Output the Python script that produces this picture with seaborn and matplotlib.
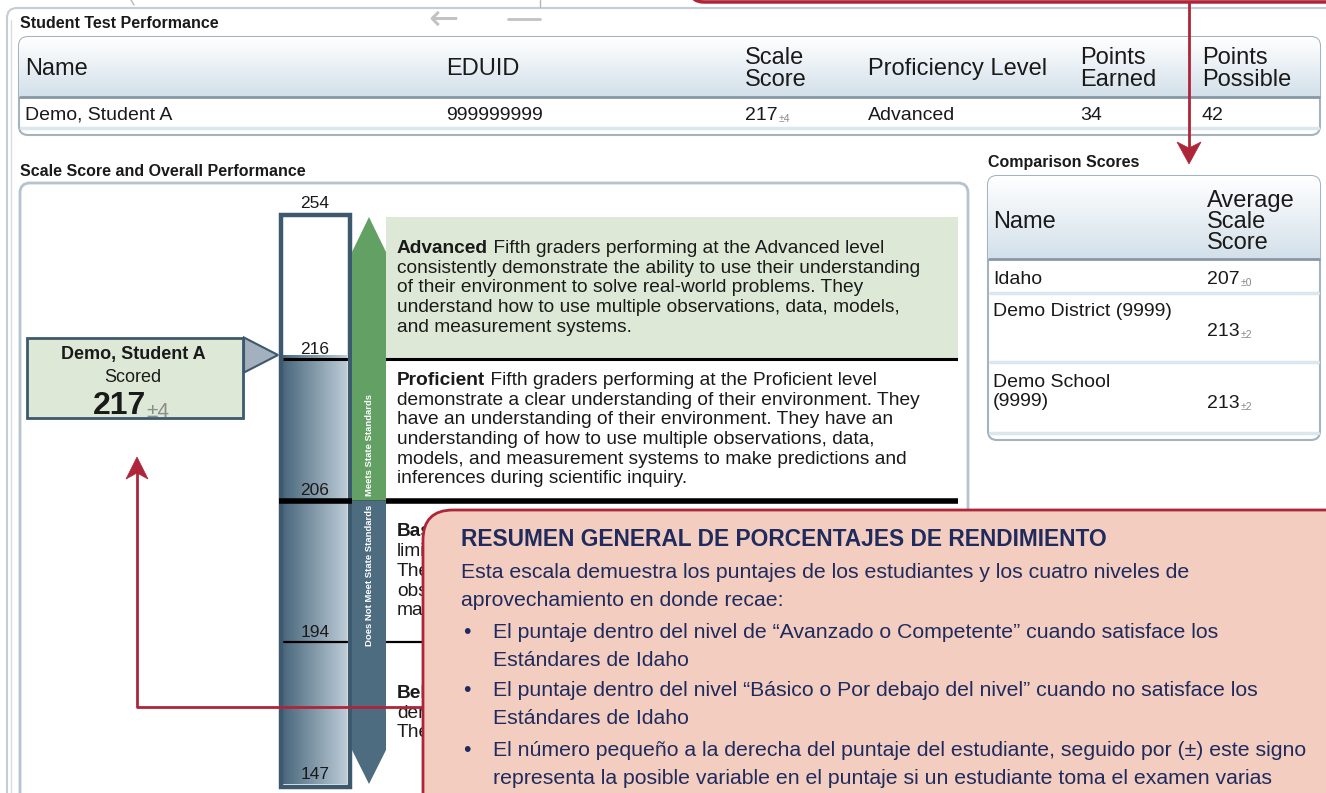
# Student score report - scale score panel with comparison scores and a Spanish call-out

import numpy as np
import matplotlib
matplotlib.use('Agg')
import matplotlib.pyplot as plt
from matplotlib.patches import FancyBboxPatch, Rectangle, Polygon
import seaborn as sns

# ---- values ----
cut_scores = [147, 194, 206, 216, 254]          # bottom -> top of the scale
level_names = ['Below Basic', 'Basic', 'Proficient', 'Advanced']

student_name = 'Demo, Student A'
student_eduid = '999999999'
student_score = 217
student_err = 4
student_level = 'Advanced'
points_earned = 34
points_possible = 42

test_headers = ['Name', 'EDUID', 'Scale\nScore', 'Proficiency Level', 'Points\nEarned', 'Points\nPossible']

comp_names = ['Idaho', 'Demo District (9999)', 'Demo School\n(9999)']
comp_scores = [207, 213, 213]
comp_errs = [0, 2, 2]

# level descriptions (Basic / Below Basic are hidden under the call-out, only their starts show)
desc_advanced = ['Fifth graders performing at the Advanced level',
                 'consistently demonstrate the ability to use their understanding',
                 'of their environment to solve real-world problems. They',
                 'understand how to use multiple observations, data, models,',
                 'and measurement systems.']
desc_proficient = ['Fifth graders performing at the Proficient level',
                   'demonstrate a clear understanding of their environment. They',
                   'have an understanding of their environment. They have an',
                   'understanding of how to use multiple observations, data,',
                   'models, and measurement systems to make predictions and',
                   'inferences during scientific inquiry.']
desc_basic = ['', 'limi', 'They', 'obse', 'mak']
desc_below = ['', 'dem', 'They']
level_short = ['Bel', 'Bas', 'Proficient', 'Advanced']
level_desc = [desc_below, desc_basic, desc_proficient, desc_advanced]

note_title = 'RESUMEN GENERAL DE PORCENTAJES DE RENDIMIENTO'
note_intro = ['Esta escala demuestra los puntajes de los estudiantes y los cuatro niveles de',
              'aprovechamiento en donde recae:']
note_bullets = [['El puntaje dentro del nivel de \u201cAvanzado o Competente\u201d cuando satisface los',
                 'Est\u00e1ndares de Idaho'],
                ['El puntaje dentro del nivel \u201cB\u00e1sico o Por debajo del nivel\u201d cuando no satisface los',
                 'Est\u00e1ndares de Idaho'],
                ['El n\u00famero peque\u00f1o a la derecha del puntaje del estudiante, seguido por (\u00b1) este signo',
                 'representa la posible variable en el puntaje si un estudiante toma el examen varias']]

# ---- colours ----
SLATE = '#3d596d'
GREEN_BG = '#dde9d6'
ARROW_GREEN = '#63a064'
ARROW_SLATE = '#4d6c80'
RED = '#ae2539'
PINK = '#f3cdbf'
NAVY = '#1f2b5e'
TXT = '#1a1a1a'

sns.set_style('white')
plt.rcParams['font.family'] = ['Liberation Sans', 'DejaVu Sans']

W, H = 1326, 793
fig = plt.figure(figsize=(W / 100, H / 100), dpi=100)


def px_axes(z):
    a = fig.add_axes([0, 0, 1, 1], zorder=z)
    a.set_xlim(0, W)
    a.set_ylim(H, 0)
    a.axis('off')
    return a


bg = px_axes(0)
# scale axes: x in pixels, y in level units (each level gets the same height)
sc = fig.add_axes([279 / W, 1 - 784 / H, (958 - 279) / W, (784 - 217) / H], zorder=1)
sc.axis('off')
top = px_axes(2)


def rbox(ax, x0, y0, x1, y1, r, fc, ec, lw, z=1):
    p = FancyBboxPatch((x0, y0), x1 - x0, y1 - y0, boxstyle=f'round,pad=0,rounding_size={r}',
                       fc=fc, ec=ec, lw=lw, zorder=z)
    ax.add_patch(p)
    return p


head_cmap = sns.blend_palette(['#ffffff', '#d3e0ea'], as_cmap=True)


def header_grad(ax, patch, x0, x1, y0, y1):
    g = np.linspace(0, 1, 64).reshape(-1, 1)
    im = ax.imshow(g, cmap=head_cmap, extent=(x0, x1, y1, y0), origin='upper',
                   aspect='auto', zorder=patch.get_zorder() + 0.1)
    im.set_clip_path(patch)
    ax.plot([x0 + 1, x1 - 1], [y1, y1], color='#8797a6', lw=2, zorder=patch.get_zorder() + 0.2)


def value_pm(ax, x, y, val, err, fs, fs_small, ha='left', z=3, color='#8a8a8a', weight='normal'):
    t = ax.text(x, y, str(val), fontsize=fs, va='center', ha=ha, color=TXT, zorder=z, weight=weight)
    ax.annotate(f'\u00b1{err}', xy=(1, 0), xycoords=t, xytext=(0.5, 0), textcoords='offset points',
                fontsize=fs_small, color=color, va='bottom', ha='left', zorder=z)
    return t


# ---- background panels ----
rbox(bg, 7, 8, 1360, 900, 10, 'none', '#c4cdd5', 1.5, z=0.5)
bg.plot([10.5, 10.5], [20, 793], color='#d5dce2', lw=1, zorder=0.5)
bg.plot([540, 540], [0, 7], color='#b5b5b5', lw=1)
bg.plot([131, 134], [0, 5], color='#b5b5b5', lw=1)
bg.text(20, 23, 'Student Test Performance', fontsize=11.5, weight='bold', va='center', color=TXT)
bg.text(428, 20, '\u2190', fontsize=26, va='center', color='#c2c2c2', family='DejaVu Sans')
bg.plot([508, 540], [19, 19], color='#c2c2c2', lw=2)

# student test performance table
p1 = rbox(bg, 19, 37, 1320, 135, 9, 'white', '#a3b3c0', 1.5)
header_grad(bg, p1, 19, 1320, 37, 97)
bg.plot([21, 1318], [128, 128], color='#dce6ee', lw=2.5, zorder=1.3)
col_x = [25, 446, 745, 868, 1080, 1202]
for x, h in zip(col_x, test_headers):
    bg.text(x, 69, h, fontsize=17, va='center', ha='left', linespacing=1.0, color=TXT, zorder=2)
row_vals = [student_name, student_eduid, None, student_level, str(points_earned), str(points_possible)]
for x, v in zip(col_x, row_vals):
    if v is None:
        value_pm(bg, x, 115, student_score, student_err, 14, 7.5)
    else:
        bg.text(x, 115, v, fontsize=14, va='center', ha='left', color=TXT, zorder=2)

# scale score panel
bg.text(20, 171, 'Scale Score and Overall Performance', fontsize=11.5, weight='bold', va='center', color=TXT)
rbox(bg, 20, 183, 968, 900, 10, 'white', '#b6c3ce', 2, z=0.6)

# comparison scores
bg.text(988, 162, 'Comparison Scores', fontsize=11.5, weight='bold', va='center', color=TXT)
p2 = rbox(bg, 988, 176, 1320, 440, 9, 'white', '#a3b3c0', 1.5)
header_grad(bg, p2, 988, 1320, 176, 259)
bg.text(993, 222, 'Name', fontsize=17, va='center', color=TXT, zorder=2)
bg.text(1207, 222, 'Average\nScale\nScore', fontsize=17, va='center', linespacing=0.97, color=TXT, zorder=2)
name_y = [279, 311, 392]
score_y = [279, 331, 404]
for yl in [293, 362, 433]:
    bg.plot([990, 1318], [yl, yl], color='#dce6ee', lw=2.5, zorder=1.3)
for nm, s, e, yn, ys in zip(comp_names, comp_scores, comp_errs, name_y, score_y):
    bg.text(993, yn, nm, fontsize=14, va='center', linespacing=1.15, color=TXT, zorder=2)
    value_pm(bg, 1207, ys, s, e, 14, 7.5)

# ---- the scale bar ----
levels = np.arange(len(cut_scores))
score_lvl = np.interp(student_score, cut_scores, levels)
step_px = (784 - 217) / (len(cut_scores) - 1)

# advanced band background
sc.add_patch(Rectangle((386, levels[3]), 958 - 386, 1, fc=GREEN_BG, ec='none', zorder=0.5))
# filled part of the bar, up to the student score
bar_cmap = sns.blend_palette(['#4a687d', '#bccbd6'], as_cmap=True)
sc.imshow(np.linspace(0, 1, 64).reshape(1, -1), cmap=bar_cmap, extent=(283, 347, 0, score_lvl),
          origin='lower', aspect='auto', zorder=1)
sc.add_patch(Rectangle((280.5, -2.5 / step_px), 69, levels[-1] + 5 / step_px, fc='none', ec=SLATE,
                       lw=3.2, zorder=2, clip_on=False))
# cut lines
sc.hlines(levels[3], 283, 958, color='black', lw=2.2, zorder=1.5)
sc.hlines(levels[2], 279, 958, color='black', lw=4, zorder=2.5)
sc.hlines(levels[1], 283, 958, color='black', lw=1.6, zorder=1.5)
for i, c in enumerate(cut_scores):
    sc.annotate(str(c), (315, levels[i]), xytext=(0, 4 if i == len(cut_scores) - 1 else 1.5),
                textcoords='offset points', ha='center', va='bottom', fontsize=12.5, color=TXT,
                zorder=3, annotation_clip=False)

# meets / does not meet arrow
tip = 35 / step_px
sc.add_patch(Polygon([(352, levels[2]), (352, levels[4] - tip), (369, levels[4]), (386, levels[4] - tip),
                      (386, levels[2])], closed=True, fc=ARROW_GREEN, ec='none', zorder=3))
tip_b = 34 / step_px
sc.add_patch(Polygon([(352, levels[2]), (352, levels[0] + tip_b), (369, levels[0]), (386, levels[0] + tip_b),
                      (386, levels[2])], closed=True, fc=ARROW_SLATE, ec='none', zorder=3))
sc.text(370, levels[2] + 0.03, 'Meets State Standards', rotation=90, ha='center', va='bottom',
        fontsize=6.8, weight='bold', color='white', zorder=4)
sc.text(370, levels[2] - 0.03, 'Does Not Meet State Standards', rotation=90, ha='center', va='top',
        fontsize=6.8, weight='bold', color='white', zorder=4)

# level descriptions, centred in each band
line_step = 19.7 / step_px
for i, (name, lines) in enumerate(zip(level_short, level_desc)):
    n = len(lines)
    for k, ln in enumerate(lines):
        y = levels[i] + 0.5 - (k - (n - 1) / 2) * line_step
        if k == 0:
            b = sc.text(397, y, name, fontsize=13.8, weight='bold', va='center', color=TXT, zorder=2)
            if ln:
                sc.annotate(' ' + ln, xy=(1, 0.5), xycoords=b, va='center', ha='left', fontsize=13.8,
                            color=TXT, zorder=2)
        else:
            sc.text(397, y, ln, fontsize=13.8, va='center', color=TXT, zorder=2)

# student call-out box and pointer
bg.add_patch(Rectangle((27, 338), 216, 80, fc=GREEN_BG, ec=SLATE, lw=2, zorder=2))
bg.text(133, 354, student_name, fontsize=13, weight='bold', ha='center', va='center', color=TXT, zorder=3)
bg.text(133, 377, 'Scored', fontsize=13, ha='center', va='center', color=TXT, zorder=3)
value_pm(bg, 146, 406, student_score, student_err, 23, 15, ha='right', weight='bold', color='#8c8c8c')
half = 17.5 / step_px
sc.add_patch(Polygon([(244, score_lvl + half), (278, score_lvl), (244, score_lvl - half)], closed=True,
                     fc='#a3b0bd', ec=SLATE, lw=1.5, zorder=3, clip_on=False))

sc.set_xlim(279, 958)
sc.set_ylim(0, 4)

# ---- red call-outs on top ----
rbox(top, 690, -60, 1400, 2, 14, PINK, RED, 2.5, z=2)
top.plot([1189, 1189], [2, 148], color=RED, lw=2, zorder=3)
top.add_patch(Polygon([(1189, 164), (1177, 142), (1189, 148), (1201, 142)], closed=True, fc=RED, ec=RED,
                      lw=0.5, zorder=3))
top.plot([423, 137, 137], [707, 707, 472], color=RED, lw=2, zorder=3)
top.add_patch(Polygon([(137, 457), (126, 479), (137, 473), (148, 479)], closed=True, fc=RED, ec=RED,
                      lw=0.5, zorder=3))

rbox(top, 423, 510, 1420, 900, 30, PINK, RED, 2, z=4)
top.text(461, 540, note_title, fontsize=16.4, weight='bold', va='center', color=NAVY, zorder=5)
for ln, y in zip(note_intro, [573, 601]):
    top.text(461, y, ln, fontsize=15.3, va='center', color=NAVY, zorder=5, clip_on=True)
bullet_y = [633, 691, 750]
for lines, y in zip(note_bullets, bullet_y):
    top.text(467, y, '\u2022', fontsize=15.3, va='center', ha='center', color=NAVY, zorder=5)
    top.text(493, y, lines[0], fontsize=15.3, va='center', color=NAVY, zorder=5, clip_on=True)
    top.text(493, y + 28, lines[1], fontsize=15.3, va='center', color=NAVY, zorder=5, clip_on=True)

for a in (bg, top):
    a.set_xlim(0, W)
    a.set_ylim(H, 0)

fig.savefig('out.png', dpi=100)
